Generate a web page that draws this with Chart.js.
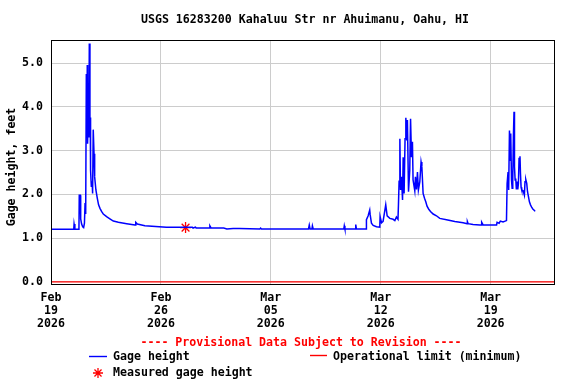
<!DOCTYPE html>
<html>
<head>
<meta charset="utf-8">
<script src="https://cdn.jsdelivr.net/npm/chart.js@4"></script>
<style>
  html, body { margin: 0; padding: 0; background: #fff; }
  canvas { display: block; }
</style>
</head>
<body>
<canvas id="gageChart" width="576" height="384"></canvas>
<script>
const FONT = '"DejaVu Sans Mono", "Liberation Mono", monospace';

// time axis is in days since Feb 19 2026 00:00
const dayOffsets = [
  0, 1.45, 1.47, 1.52, 1.78, 1.80, 1.87, 1.89, 1.95, 2.02, 2.08, 2.13, 2.17, 2.21,
  2.25, 2.29, 2.31, 2.33, 2.37, 2.41, 2.44, 2.48, 2.50, 2.52, 2.57, 2.62, 2.65, 2.69,
  2.74, 2.78, 2.86, 2.95, 3.03, 3.12, 3.22, 3.33, 3.54, 3.75, 3.97, 4.29, 4.82, 5.35,
  5.40, 5.50, 5.98, 7.35, 8.60, 9.00, 9.05, 9.20, 9.25, 10.08, 10.12, 10.20, 11.00,
  11.20, 11.60, 12.00, 13.30, 13.35, 13.40, 16.40, 16.45, 16.50, 16.62, 16.65, 16.70,
  18.65, 18.68, 18.72, 19.38, 19.41, 19.45, 20.07, 20.09, 20.20, 20.30, 20.33, 20.41,
  20.52, 20.73, 20.94, 20.96, 21.05, 21.15, 21.32, 21.41, 21.58, 21.79, 21.90, 22.00,
  22.10, 22.13, 22.17, 22.22, 22.26, 22.32, 22.39, 22.43, 22.49, 22.55, 22.60, 22.66,
  22.70, 22.77, 22.85, 22.90, 22.96, 23.02, 23.06, 23.17, 23.21, 23.28, 23.34, 23.40,
  23.49, 23.57, 23.62, 23.70, 23.79, 23.87, 23.95, 24.06, 24.17, 24.34, 24.55, 24.76,
  25.19, 25.72, 26.25, 26.50, 26.52, 26.57, 26.88, 27.31, 27.41, 27.43, 27.52, 28.38,
  28.41, 28.54, 28.62, 28.79, 29.01, 29.05, 29.11, 29.15, 29.20, 29.24, 29.28, 29.33,
  29.37, 29.41, 29.45, 29.49, 29.52, 29.56, 29.60, 29.64, 29.68, 29.73, 29.77, 29.81,
  29.87, 29.90, 29.94, 29.98, 30.07, 30.15, 30.19, 30.24, 30.30, 30.35, 30.41, 30.47,
  30.54, 30.62, 30.70, 30.79, 30.83
];
const gageHeight = [
  1.20, 1.20, 1.32, 1.20, 1.20, 1.98, 1.98, 1.44, 1.32, 1.26, 1.24, 1.34, 1.80, 1.55,
  4.75, 3.50, 4.96, 3.16, 3.92, 3.30, 5.45, 3.61, 3.76, 2.55, 2.17, 2.30, 2.02, 3.48,
  2.93, 2.40, 2.10, 1.91, 1.76, 1.68, 1.61, 1.55, 1.49, 1.44, 1.39, 1.36, 1.33, 1.30,
  1.36, 1.32, 1.28, 1.25, 1.25, 1.25, 1.23, 1.25, 1.23, 1.23, 1.28, 1.23, 1.23,
  1.21, 1.22, 1.22, 1.21, 1.23, 1.21, 1.21, 1.30, 1.21, 1.21, 1.28, 1.21,
  1.21, 1.28, 1.21, 1.21, 1.31, 1.21, 1.21, 1.42, 1.51, 1.64, 1.53, 1.34,
  1.29, 1.26, 1.25, 1.49, 1.35, 1.38, 1.76, 1.51, 1.45, 1.43, 1.40, 1.48,
  1.43, 1.77, 2.30, 3.27, 2.10, 2.40, 1.87, 2.85, 2.02, 3.27, 3.75, 3.23,
  3.70, 2.06, 2.55, 3.73, 2.85, 3.20, 2.33, 2.08, 2.40, 2.11, 2.51, 2.10,
  2.29, 2.74, 2.63, 2.02, 1.91, 1.83, 1.73, 1.66, 1.61, 1.55, 1.51, 1.45,
  1.42, 1.38, 1.35, 1.33, 1.38, 1.33, 1.31, 1.30, 1.30, 1.36, 1.30, 1.30,
  1.36, 1.34, 1.39, 1.37, 1.40, 2.25, 2.51, 2.10, 3.46, 2.78, 3.39, 2.33,
  2.14, 2.33, 3.31, 3.89, 2.63, 2.33, 2.36, 2.11, 2.29, 2.11, 2.25, 2.82,
  2.87, 2.48, 2.16, 2.10, 2.08, 1.98, 2.29, 2.34, 2.25, 2.06, 1.95, 1.83,
  1.76, 1.70, 1.66, 1.63, 1.61
];
const measuredDays = [8.57];
const measuredHeights = [1.24];
const limitDays = [0, 32.1];
const limitHeights = [0, 0];

const xTickDays = [0, 7, 14, 21, 28];
const xTickLabels = [
  ["Feb", "19", "2026"],
  ["Feb", "26", "2026"],
  ["Mar", "05", "2026"],
  ["Mar", "12", "2026"],
  ["Mar", "19", "2026"]
];
const yTicks = [0, 1, 2, 3, 4, 5];

const title = "USGS 16283200 Kahaluu Str nr Ahuimanu, Oahu, HI";
const yTitle = "Gage height, feet";
const provisional = "---- Provisional Data Subject to Revision ----";

function toPoints(xs, ys) {
  return xs.map((x, i) => ({ x: x, y: ys[i] }));
}

function drawStar(ctx, x, y, r) {
  ctx.beginPath();
  for (let i = 0; i < 4; i++) {
    const a = (i * Math.PI) / 4;
    ctx.moveTo(x - r * Math.cos(a), y - r * Math.sin(a));
    ctx.lineTo(x + r * Math.cos(a), y + r * Math.sin(a));
  }
  ctx.stroke();
}

// title, box, provisional note and legend
const decorations = {
  id: "decorations",
  afterDraw(chart) {
    const ctx = chart.ctx;
    const area = chart.chartArea;
    ctx.save();

    ctx.strokeStyle = "#000";
    ctx.lineWidth = 1;
    ctx.strokeRect(area.left + 0.5, area.top + 0.5, area.right - area.left - 1, area.bottom - area.top);

    ctx.font = "bold 11.6px " + FONT;
    ctx.textBaseline = "middle";
    ctx.fillStyle = "#000";
    ctx.textAlign = "center";
    ctx.fillText(title, 305, 20);

    ctx.save();
    ctx.translate(12, 167);
    ctx.rotate(-Math.PI / 2);
    ctx.fillText(yTitle, 0, 0);
    ctx.restore();

    ctx.fillStyle = "#ff0000";
    ctx.fillText(provisional, 301, 343);

    // legend
    ctx.textAlign = "left";
    ctx.lineWidth = 1.4;
    ctx.strokeStyle = "#0000ff";
    ctx.beginPath();
    ctx.moveTo(89, 356.5);
    ctx.lineTo(107, 356.5);
    ctx.stroke();
    ctx.fillStyle = "#000";
    ctx.fillText("Gage height", 113, 357);

    ctx.strokeStyle = "#ff0000";
    ctx.beginPath();
    ctx.moveTo(310, 355.5);
    ctx.lineTo(327, 355.5);
    ctx.stroke();
    ctx.fillText("Operational limit (minimum)", 333, 357);

    ctx.lineWidth = 1.3;
    drawStar(ctx, 98, 373, 5);
    ctx.fillText("Measured gage height", 113, 373);

    ctx.restore();
  }
};

new Chart(document.getElementById("gageChart"), {
  type: "line",
  data: {
    datasets: [
      {
        label: "Operational limit (minimum)",
        data: toPoints(limitDays, limitHeights),
        borderColor: "#ff0000",
        borderWidth: 1.3,
        pointRadius: 0
      },
      {
        label: "Gage height",
        data: toPoints(dayOffsets, gageHeight),
        borderColor: "#0000ff",
        borderWidth: 1.5,
        pointRadius: 0,
        tension: 0
      },
      {
        type: "scatter",
        label: "Measured gage height",
        data: toPoints(measuredDays, measuredHeights),
        showLine: false,
        pointStyle: "star",
        pointRadius: 5.5,
        borderColor: "#ff0000",
        backgroundColor: "#ff0000",
        borderWidth: 1.3
      }
    ]
  },
  options: {
    responsive: false,
    animation: false,
    layout: { padding: { top: 40, right: 21, bottom: 54, left: 0 } },
    plugins: {
      legend: { display: false },
      tooltip: { enabled: false },
      title: { display: false }
    },
    scales: {
      x: {
        type: "linear",
        min: 0,
        max: 32.1,
        afterBuildTicks: (s) => { s.ticks = xTickDays.map((v) => ({ value: v })); },
        afterFit: (s) => { s.height = 46; },
        grid: { color: "#cccccc", drawTicks: false, lineWidth: 1 },
        border: { display: false },
        ticks: {
          autoSkip: false,
          maxRotation: 0,
          padding: 7,
          color: "#000",
          font: { family: FONT, size: 11.6, weight: "bold", lineHeight: 1.15 },
          callback: (v) => xTickLabels[xTickDays.indexOf(v)]
        }
      },
      y: {
        min: -0.05,
        max: 5.53,
        afterBuildTicks: (s) => { s.ticks = yTicks.map((v) => ({ value: v })); },
        afterFit: (s) => { s.width = 51; },
        grid: { color: "#cccccc", drawTicks: false, lineWidth: 1 },
        border: { display: false },
        ticks: {
          padding: 8,
          color: "#000",
          font: { family: FONT, size: 11.6, weight: "bold" },
          callback: (v) => v.toFixed(1)
        }
      }
    }
  },
  plugins: [decorations]
});
</script>
</body>
</html>
